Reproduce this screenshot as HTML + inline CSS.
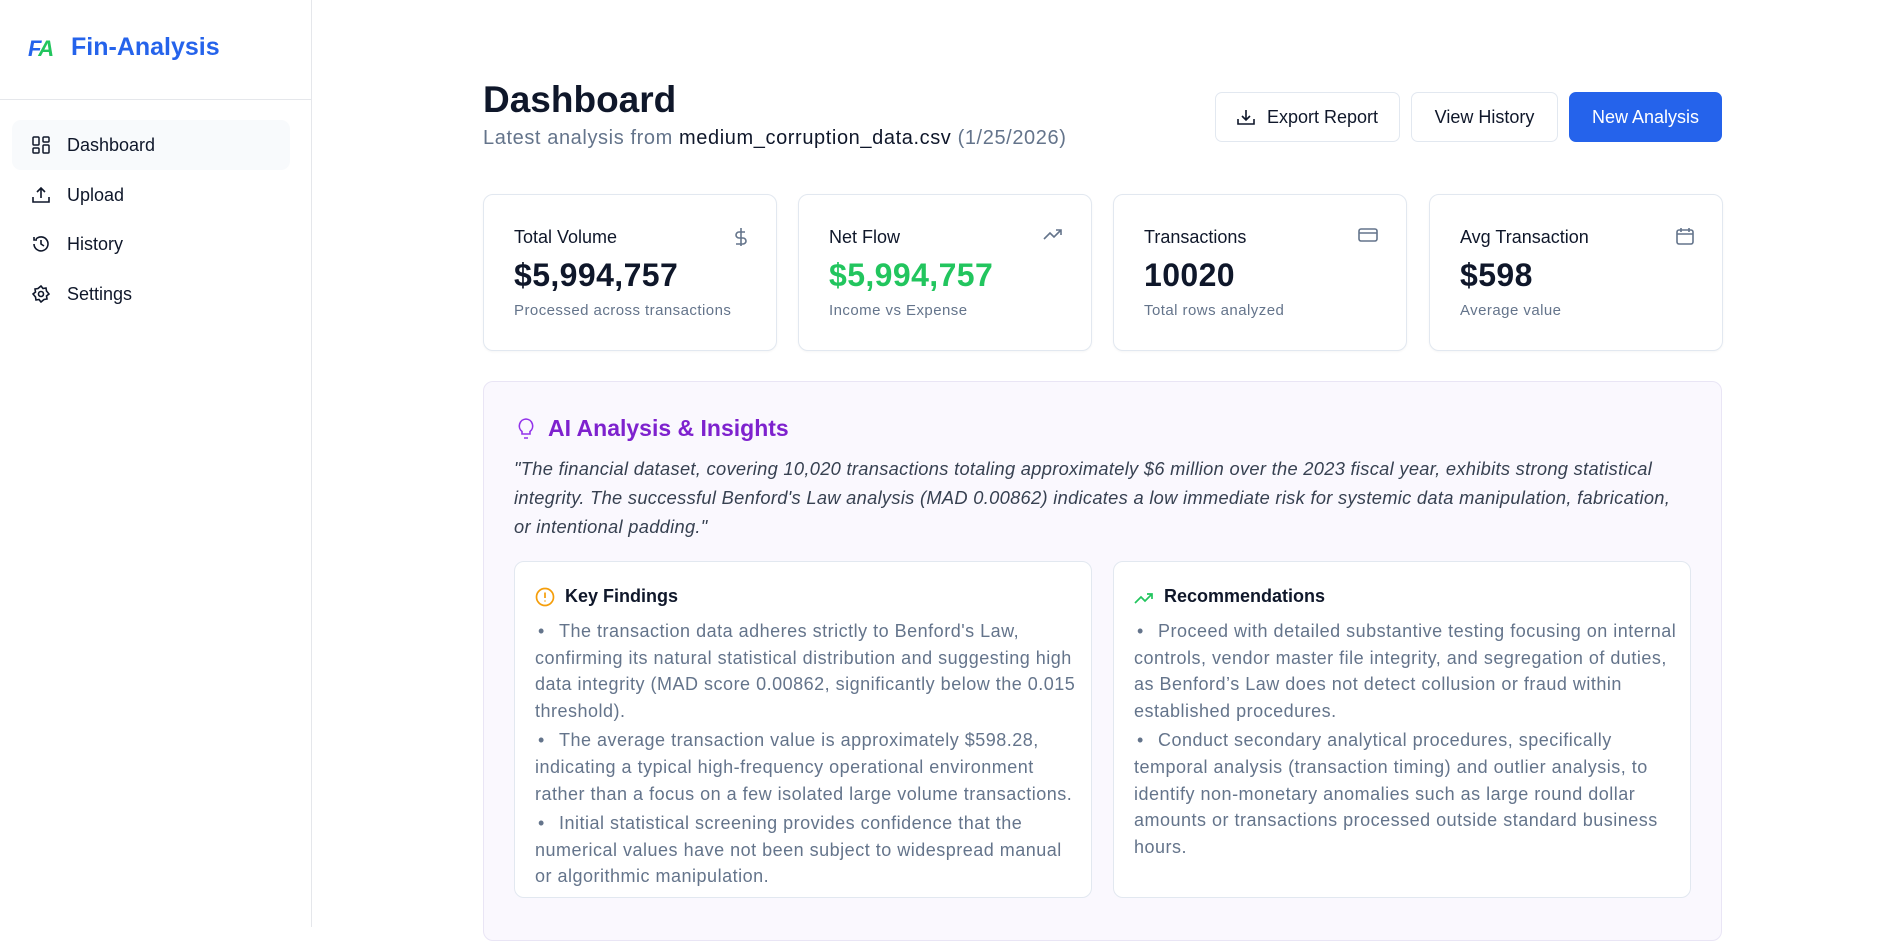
<!DOCTYPE html>
<html><head><meta charset="utf-8"><style>
*{box-sizing:border-box;margin:0;padding:0}
body{width:1897px;height:927px;overflow:hidden;background:#fff;font-family:"Liberation Sans",sans-serif;color:#0f172a;position:relative}
.abs{position:absolute}
#sidebar{left:0;top:0;width:312px;height:927px;border-right:1px solid #e5e7eb}
.nav{position:absolute;left:12px;width:278px;height:50px;border-radius:9px;display:flex;align-items:center;padding-left:20px;font-size:18px;color:#0f172a}
.nav svg{margin-right:17px}
.btn{position:absolute;top:92px;height:50px;border:1px solid #e2e8f0;border-radius:7px;display:flex;align-items:center;justify-content:center;font-size:18px;background:#fff;color:#0f172a}
.card{position:absolute;top:194px;width:294px;height:157px;border:1px solid #e2e8f0;border-radius:10px;background:#fff;box-shadow:0 1px 2px rgba(0,0,0,.04)}
.card .lab{position:absolute;left:30px;top:32px;font-size:18px}
.card .val{position:absolute;left:30px;top:62px;font-size:32px;font-weight:bold;letter-spacing:.4px}
.card .sub{position:absolute;left:30px;top:107px;font-size:15px;color:#64748b;letter-spacing:.45px}
.card svg{position:absolute;right:28px;top:32px}
.box{position:absolute;top:561px;width:578px;height:337px;border:1px solid #e2e8f0;border-radius:10px;background:#fff}
.box h3{position:absolute;left:50px;top:24px;font-size:18px;font-weight:bold}
.box svg{position:absolute;left:20px;top:25px}
.box .txt{position:absolute;left:20px;top:56px;width:560px;font-size:18px;line-height:26.6px;color:#64748b;letter-spacing:.5px;white-space:nowrap}
.box p{margin-bottom:3px}
.box b{font-weight:normal;display:inline-block;width:24px;padding-left:3px}
</style></head><body>
<div id="sidebar" class="abs">
  <div class="abs" style="left:28px;top:36px;font-size:22px;font-weight:bold;font-style:italic;letter-spacing:-2px"><span style="color:#2563eb">F</span><span style="color:#22c55e">A</span></div>
  <div class="abs" style="left:71px;top:33px;font-size:25px;font-weight:bold;color:#2563eb">Fin-Analysis</div>
  <div class="abs" style="left:0;top:99px;width:311px;height:1px;background:#e5e7eb"></div>
  <div class="nav" style="top:120px;background:#f8fafc"><svg width="18" height="18" viewBox="0 0 18 18" fill="none" stroke="#0f172a" stroke-width="1.5"><rect x="1" y="1" width="6" height="8" rx="1"/><rect x="11" y="1" width="6" height="5" rx="1"/><rect x="11" y="9" width="6" height="8" rx="1"/><rect x="1" y="12" width="6" height="5" rx="1"/></svg>Dashboard</div>
  <div class="nav" style="top:170px"><svg width="18" height="18" viewBox="0 0 18 18" fill="none" stroke="#0f172a" stroke-width="1.6"><path d="M1 11v5h16v-5M9 12V2M5 6l4-4 4 4"/></svg>Upload</div>
  <div class="nav" style="top:219px"><svg width="18" height="18" viewBox="0 0 18 18" fill="none" stroke="#0f172a" stroke-width="1.6"><path d="M2 9a7 7 0 1 0 2-5M2 2v3h3M9 5v4l3 2"/></svg>History</div>
  <div class="nav" style="top:269px"><svg width="18" height="18" viewBox="0 0 18 18" fill="none" stroke="#0f172a" stroke-width="1.6"><circle cx="9" cy="9" r="2.5"/><path d="M9 1l2 2.5 3-.5.5 3L17 9l-2.5 2 .5 3-3 .5L9 17l-2-2.5-3 .5-.5-3L1 9l2.5-2-.5-3 3-.5z"/></svg>Settings</div>
</div>

<div class="abs" style="left:483px;top:79px;font-size:37px;font-weight:bold">Dashboard</div>
<div class="abs" style="left:483px;top:127px;font-size:20px;color:#64748b;letter-spacing:.6px">Latest analysis from <span style="color:#0f172a">medium_corruption_data.csv</span> (1/25/2026)</div>

<div class="btn" style="left:1215px;width:185px"><svg width="18" height="18" viewBox="0 0 18 18" fill="none" stroke="#0f172a" stroke-width="1.6" style="margin-right:12px"><path d="M1 11v5h16v-5M9 2v10M5 8l4 4 4-4"/></svg>Export Report</div>
<div class="btn" style="left:1411px;width:147px">View History</div>
<div class="btn" style="left:1569px;width:153px;background:#2563eb;border-color:#2563eb;color:#fff">New Analysis</div>

<div class="card" style="left:483px"><div class="lab">Total Volume</div><svg width="14" height="20" viewBox="0 0 14 20" fill="none" stroke="#64748b" stroke-width="1.6"><path d="M7 1v18M11 5H5a3 3 0 0 0 0 6h4a3 3 0 0 1 0 6H2"/></svg><div class="val">$5,994,757</div><div class="sub">Processed across transactions</div></div>
<div class="card" style="left:798px"><div class="lab">Net Flow</div><svg width="20" height="14" viewBox="0 0 20 14" fill="none" stroke="#64748b" stroke-width="1.6"><path d="M1 12l6-6 4 4 7-7M13 3h5v5"/></svg><div class="val" style="color:#22c55e">$5,994,757</div><div class="sub">Income vs Expense</div></div>
<div class="card" style="left:1113px"><div class="lab">Transactions</div><svg width="20" height="16" viewBox="0 0 20 16" fill="none" stroke="#64748b" stroke-width="1.6"><rect x="1" y="2" width="18" height="12" rx="2"/><path d="M1 6h18"/></svg><div class="val">10020</div><div class="sub">Total rows analyzed</div></div>
<div class="card" style="left:1429px"><div class="lab">Avg Transaction</div><svg width="18" height="18" viewBox="0 0 18 18" fill="none" stroke="#64748b" stroke-width="1.6"><rect x="1" y="3" width="16" height="14" rx="2"/><path d="M1 7h16M5 1v4M13 1v4"/></svg><div class="val">$598</div><div class="sub">Average value</div></div>

<div class="abs" style="left:483px;top:381px;width:1239px;height:560px;border:1px solid #e9e5f5;border-radius:10px;background:#faf8fe"></div>
<svg class="abs" style="left:517px;top:418px" width="18" height="22" viewBox="0 0 18 22" fill="none" stroke="#9333ea" stroke-width="1.6"><path d="M6 16h6M7 20h4M9 1a7 7 0 0 0-4 12.5V16h8v-2.5A7 7 0 0 0 9 1z"/></svg>
<div class="abs" style="left:548px;top:415px;font-size:23px;font-weight:bold;color:#7e22ce">AI Analysis &amp; Insights</div>
<div class="abs" style="left:514px;top:454px;width:1200px;font-size:18.3px;line-height:29px;font-style:italic;color:#374151;letter-spacing:.3px;white-space:nowrap">"The financial dataset, covering 10,020 transactions totaling approximately $6 million over the 2023 fiscal year, exhibits strong statistical<br>integrity. The successful Benford's Law analysis (MAD 0.00862) indicates a low immediate risk for systemic data manipulation, fabrication,<br>or intentional padding."</div>

<div class="box" style="left:514px">
<svg width="20" height="20" viewBox="0 0 20 20" fill="none" stroke="#f59e0b" stroke-width="1.7"><circle cx="10" cy="10" r="8.5"/><path d="M10 5.5v5.5M10 13.5v1"/></svg>
<h3>Key Findings</h3>
<div class="txt">
<p><b>•</b>The transaction data adheres strictly to Benford's Law,<br>confirming its natural statistical distribution and suggesting high<br>data integrity (MAD score 0.00862, significantly below the 0.015<br>threshold).</p>
<p><b>•</b>The average transaction value is approximately $598.28,<br>indicating a typical high-frequency operational environment<br>rather than a focus on a few isolated large volume transactions.</p>
<p><b>•</b>Initial statistical screening provides confidence that the<br>numerical values have not been subject to widespread manual<br>or algorithmic manipulation.</p>
</div></div>

<div class="box" style="left:1113px">
<svg width="20" height="14" viewBox="0 0 20 14" fill="none" stroke="#22c55e" stroke-width="1.7" style="top:29px"><path d="M1 12l6-6 4 4 7-7M13 3h5v5"/></svg>
<h3>Recommendations</h3>
<div class="txt">
<p><b>•</b>Proceed with detailed substantive testing focusing on internal<br>controls, vendor master file integrity, and segregation of duties,<br>as Benford’s Law does not detect collusion or fraud within<br>established procedures.</p>
<p><b>•</b>Conduct secondary analytical procedures, specifically<br>temporal analysis (transaction timing) and outlier analysis, to<br>identify non-monetary anomalies such as large round dollar<br>amounts or transactions processed outside standard business<br>hours.</p>
</div></div>
</body></html>
